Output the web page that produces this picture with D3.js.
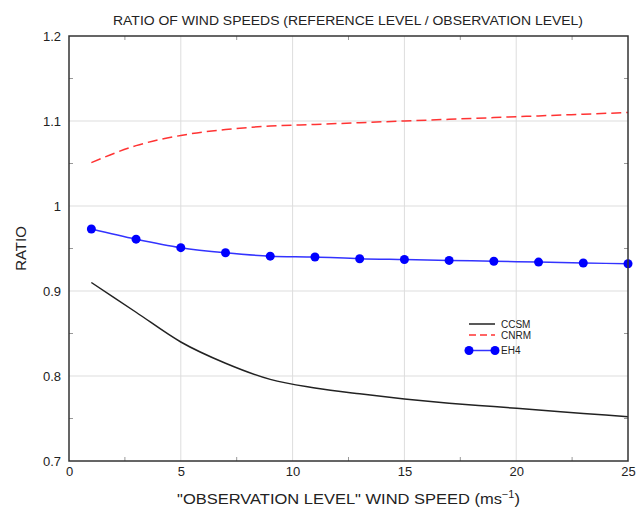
<!DOCTYPE html>
<html>
<head>
<meta charset="utf-8">
<script src="https://cdn.jsdelivr.net/npm/d3@7"></script>
<style>
  body { margin: 0; background: #fff; }
  text { font-family: "Liberation Sans", Arial, sans-serif; fill: #222; }
</style>
</head>
<body>
<div id="chart"></div>
<script>
// wind speed samples (ms-1)
const speeds = [1, 3, 5, 7, 9, 11, 13, 15, 17, 19, 21, 23, 25];
const ccsm = [0.910, 0.875, 0.840, 0.815, 0.796, 0.786, 0.779, 0.773, 0.768, 0.764, 0.760, 0.756, 0.752];
const cnrm = [1.051, 1.071, 1.083, 1.090, 1.094, 1.096, 1.098, 1.100, 1.102, 1.104, 1.106, 1.108, 1.110];
const eh4  = [0.973, 0.961, 0.951, 0.945, 0.941, 0.940, 0.938, 0.937, 0.936, 0.935, 0.934, 0.933, 0.932];
const xTicks = [0, 5, 10, 15, 20, 25];
const yTicks = [0.7, 0.8, 0.9, 1.0, 1.1, 1.2];

const width = 637, height = 509;
const margin = {top: 36, right: 10, bottom: 48, left: 69};
const iw = 628 - margin.left, ih = 461 - margin.top;

const svg = d3.select('#chart').append('svg')
    .attr('width', width).attr('height', height);
const g = svg.append('g').attr('transform', `translate(${margin.left},${margin.top})`);

const x = d3.scaleLinear().domain([0, 25]).range([0, iw]);
const y = d3.scaleLinear().domain([0.7, 1.2]).range([ih, 0]);

// grid
g.selectAll('line.gx').data(xTicks.slice(1, -1)).enter().append('line')
    .attr('x1', d => x(d)).attr('x2', d => x(d)).attr('y1', 0).attr('y2', ih)
    .attr('stroke', '#ddd').attr('stroke-width', 1);
g.selectAll('line.gy').data(yTicks.slice(1, -1)).enter().append('line')
    .attr('y1', d => y(d)).attr('y2', d => y(d)).attr('x1', 0).attr('x2', iw)
    .attr('stroke', '#ddd').attr('stroke-width', 1);

// minor ticks, inward on all sides
const xMinor = d3.range(2.5, 25, 5);
const yMinor = d3.range(0.75, 1.2, 0.1);
g.selectAll('line.mx').data(xMinor).enter().append('line')
    .attr('x1', d => x(d)).attr('x2', d => x(d)).attr('y1', ih).attr('y2', ih - 4)
    .attr('stroke', '#999');
g.selectAll('line.mxt').data(xMinor).enter().append('line')
    .attr('x1', d => x(d)).attr('x2', d => x(d)).attr('y1', 0).attr('y2', 4)
    .attr('stroke', '#999');
g.selectAll('line.my').data(yMinor).enter().append('line')
    .attr('y1', d => y(d)).attr('y2', d => y(d)).attr('x1', 0).attr('x2', 4)
    .attr('stroke', '#999');
g.selectAll('line.myr').data(yMinor).enter().append('line')
    .attr('y1', d => y(d)).attr('y2', d => y(d)).attr('x1', iw).attr('x2', iw - 4)
    .attr('stroke', '#999');

// axes labels
const xAxis = d3.axisBottom(x).tickValues(xTicks).tickSize(0).tickPadding(6);
const yAxis = d3.axisLeft(y).tickValues(yTicks).tickSize(0).tickPadding(8)
    .tickFormat(d => d3.format('~g')(d));
g.append('g').attr('transform', `translate(0,${ih})`).call(xAxis)
    .call(s => s.select('.domain').remove())
    .selectAll('text').style('font-size', '13px').attr('fill', '#222');
g.append('g').call(yAxis)
    .call(s => s.select('.domain').remove())
    .selectAll('text').style('font-size', '13px').attr('fill', '#222');

// lines
const pts = vals => speeds.map((s, i) => [s, vals[i]]);
const line = d3.line().x(d => x(d[0])).y(d => y(d[1])).curve(d3.curveMonotoneX);

g.append('path').datum(pts(ccsm)).attr('d', line)
    .attr('fill', 'none').attr('stroke', '#222').attr('stroke-width', 1.5);
g.append('path').datum(pts(cnrm)).attr('d', line)
    .attr('fill', 'none').attr('stroke', '#ff3333').attr('stroke-width', 1.5)
    .attr('stroke-dasharray', '10,5');
g.append('path').datum(pts(eh4)).attr('d', line)
    .attr('fill', 'none').attr('stroke', '#3333ff').attr('stroke-width', 1.5);
g.selectAll('circle.eh4').data(pts(eh4)).enter().append('circle')
    .attr('cx', d => x(d[0])).attr('cy', d => y(d[1])).attr('r', 4.5)
    .attr('fill', '#0000ff');

// frame
g.append('rect').attr('width', iw).attr('height', ih)
    .attr('fill', 'none').attr('stroke', '#333').attr('stroke-width', 1.5);

// legend
const legend = [
  {name: 'CCSM', color: '#222', dash: null, dot: false},
  {name: 'CNRM', color: '#ff3333', dash: '7,4', dot: false},
  {name: 'EH4', color: '#3333ff', dash: null, dot: true}
];
const lg = svg.append('g').attr('transform', 'translate(469,324)');
legend.forEach((d, i) => {
  const yy = [0, 11, 26.5][i];
  lg.append('line').attr('x1', 0).attr('x2', 26).attr('y1', yy).attr('y2', yy)
    .attr('stroke', d.color).attr('stroke-width', 1.5)
    .attr('stroke-dasharray', d.dash);
  if (d.dot) {
    [0, 26].forEach(cx => lg.append('circle').attr('cx', cx).attr('cy', yy).attr('r', 4.5).attr('fill', '#0000ff'));
  }
  lg.append('text').attr('x', 32).attr('y', yy).attr('dy', '0.35em')
    .style('font-size', '10px').text(d.name);
});

// titles (the reference lettering is a little wider than Liberation Sans)
svg.append('text').attr('x', 113).attr('y', 25)
  .style('font-size', '12.5px')
  .attr('textLength', 470).attr('lengthAdjust', 'spacingAndGlyphs')
  .text('RATIO OF WIND SPEEDS (REFERENCE LEVEL / OBSERVATION LEVEL)');
svg.append('text').attr('transform', `translate(25.5,${margin.top + ih / 2}) rotate(-90)`)
  .attr('text-anchor', 'middle').style('font-size', '15px').text('RATIO');
const xt = svg.append('text')
  .attr('transform', `translate(${margin.left + iw / 2},504) scale(1.1,1)`)
  .attr('text-anchor', 'middle').style('font-size', '15px');
xt.append('tspan').text('"OBSERVATION LEVEL" WIND SPEED (ms');
xt.append('tspan').attr('dy', -6).style('font-size', '10px').text('−1');
xt.append('tspan').attr('dy', 6).text(')');
</script>
</body>
</html>
